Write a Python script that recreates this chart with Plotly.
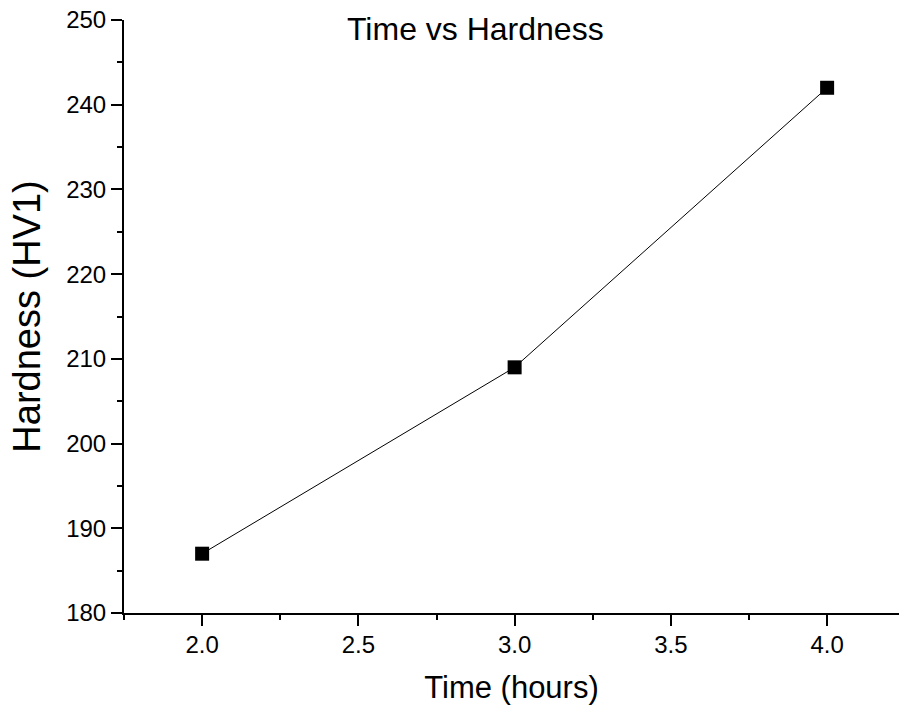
import plotly.graph_objects as go

time_hours = [2.0, 3.0, 4.0]
hardness = [187, 209, 242]
title_text = "Time vs Hardness"
x_title = "Time (hours)"
y_title = "Hardness (HV1)"

fig = go.Figure()
fig.add_trace(go.Scatter(
    x=time_hours, y=hardness, mode="lines+markers",
    line=dict(color="black", width=1),
    marker=dict(symbol="square", size=14, color="black"),
    showlegend=False,
))

font_family = "Liberation Sans, Arial, sans-serif"

fig.update_layout(
    width=899, height=706,
    margin=dict(l=124, r=0, t=20, b=93),
    paper_bgcolor="white", plot_bgcolor="white",
    font=dict(family=font_family, color="black"),
    annotations=[dict(
        text=title_text, xref="paper", yref="paper", x=0.453, y=0.985,
        xanchor="center", yanchor="middle", showarrow=False,
        font=dict(size=32, family=font_family, color="black"),
    )],
)

fig.update_xaxes(
    range=[1.75, 4.23], tickmode="array",
    tickvals=[2.0, 2.5, 3.0, 3.5, 4.0],
    ticktext=["2.0", "2.5", "3.0", "3.5", "4.0"],
    showgrid=False, zeroline=False,
    showline=True, linecolor="black", linewidth=2,
    ticks="outside", ticklen=11, tickwidth=2, tickcolor="black",
    ticklabelstandoff=-2,
    tickfont=dict(size=24, family=font_family, color="black"),
    minor=dict(ticks="outside", ticklen=5, tickwidth=2, tickcolor="black",
               tick0=1.75, dtick=0.25, showgrid=False),
    title=dict(text=x_title, font=dict(size=31, family=font_family, color="black"), standoff=20),
)

fig.update_yaxes(
    range=[180, 250], tickmode="linear", tick0=180, dtick=10,
    showgrid=False, zeroline=False,
    showline=True, linecolor="black", linewidth=2,
    ticks="outside", ticklen=11, tickwidth=2, tickcolor="black",
    tickfont=dict(size=24, family=font_family, color="black"),
    minor=dict(ticks="outside", ticklen=5, tickwidth=2, tickcolor="black",
               dtick=5, showgrid=False),
    title=dict(text=y_title, font=dict(size=38, family=font_family, color="black"), standoff=14),
)

fig.write_html("out.html")
